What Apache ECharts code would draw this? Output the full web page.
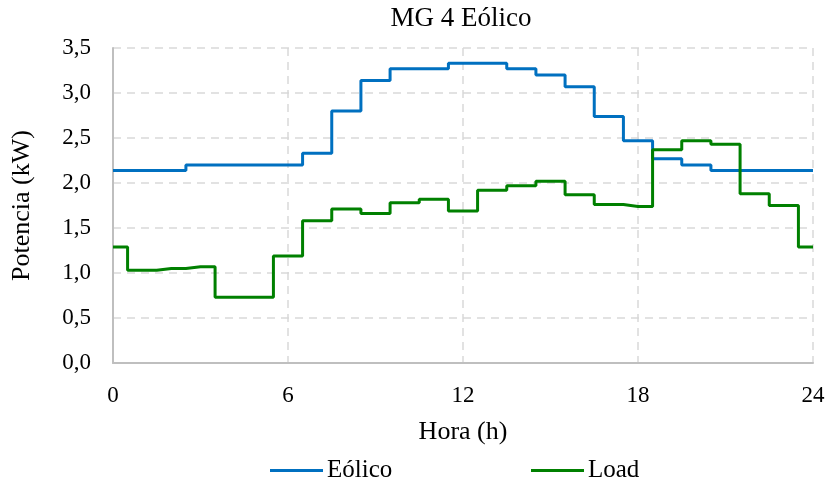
<!DOCTYPE html>
<html>
<head>
<meta charset="utf-8">
<script src="https://cdn.jsdelivr.net/npm/echarts@6/dist/echarts.min.js"></script>
<style>html,body{margin:0;padding:0;background:#fff}#c{width:828px;height:478px}</style>
</head>
<body>
<div id="c"></div>
<script>
const hours = [0,1,2,3,4,5,6,7,8,9,10,11,12,13,14,15,16,17,18,19,20,21,22,23,24];
const eolico = [2.14,2.14,2.14,2.20,2.20,2.20,2.20,2.33,2.80,3.14,3.27,3.27,3.33,3.33,3.27,3.20,3.07,2.74,2.47,2.27,2.20,2.14,2.14,2.14,2.14];
const load = [1.29,1.03,1.05,1.07,0.73,0.73,1.19,1.58,1.71,1.66,1.78,1.82,1.69,1.92,1.97,2.02,1.87,1.76,1.74,2.37,2.47,2.43,1.88,1.75,1.29];
const seriesNames = ['Eólico','Load'];
const titleText = 'MG 4 Eólico';
const xName = 'Hora (h)';
const yName = 'Potencia (kW)';

const FONT = 'Liberation Serif';
const chart = echarts.init(document.getElementById('c'), null, {renderer:'canvas'});
const pairs = arr => hours.map((h,i)=>[h, arr[i]]);
chart.setOption({
  animation:false,
  textStyle:{fontFamily:FONT},
  title:{text:titleText,left:456,textAlign:'center',top:0,textStyle:{fontFamily:FONT,fontSize:27,fontWeight:'normal',color:'#000'}},
  grid:{left:113,right:15,top:48,bottom:115,containLabel:false},
  legend:[
    {data:[seriesNames[0]],left:265,top:453,itemWidth:53,itemHeight:3,icon:'rect',itemGap:6,
     textStyle:{fontFamily:FONT,fontSize:25,color:'#000',padding:[0,0,0,-1]}},
    {data:[seriesNames[1]],left:526,top:453,itemWidth:53,itemHeight:3,icon:'rect',itemGap:6,
     textStyle:{fontFamily:FONT,fontSize:25,color:'#000',padding:[0,0,0,-1]}}
  ],
  xAxis:{type:'value',min:0,max:24,interval:6,
    name:xName,nameLocation:'middle',nameGap:56,
    nameTextStyle:{fontFamily:FONT,fontSize:26,color:'#000'},
    axisLine:{show:true,lineStyle:{color:'#bfbfbf',width:2}},
    axisTick:{show:false},
    axisLabel:{fontFamily:FONT,fontSize:23,color:'#000',margin:21},
    splitLine:{show:true,lineStyle:{color:'#d9d9d9',type:[8,6],width:1.5}}
  },
  yAxis:{type:'value',min:0,max:3.5,interval:0.5,
    name:yName,nameLocation:'middle',nameGap:78,
    nameTextStyle:{fontFamily:FONT,fontSize:26,color:'#000'},
    axisLine:{show:true,lineStyle:{color:'#bfbfbf',width:2}},
    axisTick:{show:false},
    axisLabel:{fontFamily:FONT,fontSize:23,color:'#000',margin:22,formatter:v=>v.toFixed(1).replace('.',',')},
    splitLine:{show:true,lineStyle:{color:'#d9d9d9',type:[8,6],width:1.5}}
  },
  series:[
    {name:seriesNames[0],type:'line',step:'middle',data:pairs(eolico),symbol:'none',
     lineStyle:{color:'#0070c0',width:3},itemStyle:{color:'#0070c0'}},
    {name:seriesNames[1],type:'line',step:'middle',data:pairs(load),symbol:'none',
     lineStyle:{color:'#008000',width:3},itemStyle:{color:'#008000'}}
  ]
});
</script>
</body>
</html>
